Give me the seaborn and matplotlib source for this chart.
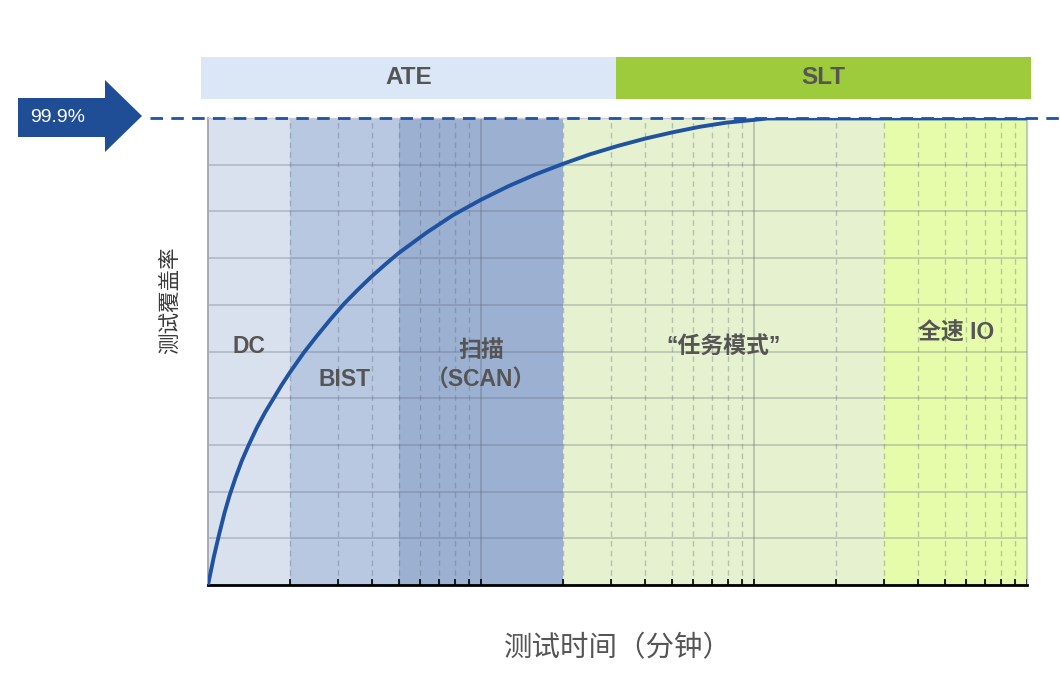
import matplotlib
matplotlib.use("Agg")
import matplotlib.pyplot as plt
from matplotlib.patches import Polygon
from matplotlib.ticker import LogLocator, NullFormatter
import seaborn as sns

# 数据：测试时间（分钟）与测试覆盖率（%）
time_min = [1.0, 1.05, 1.1, 1.15, 1.2, 1.26, 1.33, 1.41, 1.51, 1.62, 1.74,
            1.86, 2.0, 2.24, 2.51, 2.82, 3.16, 3.55, 3.98, 4.47, 5.0, 6.3,
            7.9, 10, 12.6, 15.8, 20, 25, 31.6, 40, 50, 63, 79, 100, 112, 1000]
coverage = [0, 6, 11, 15.5, 19.2, 22.9, 26.6, 30.0, 33.7, 37.0, 40.0,
            42.8, 45.6, 49.7, 53.4, 57, 60.3, 63.3, 66.1, 68.7, 71.1, 75.4,
            79.2, 82.5, 85.4, 87.9, 90.2, 92.2, 94, 95.6, 96.9, 98.1, 99.0,
            99.6, 99.9, 99.9]
target = 99.9

# 测试阶段及边界（分钟）
stage_names = ["DC", "BIST", "扫描\n（SCAN）", "“任务模式”", "全速 IO"]
stage_edges = [1, 2, 5, 20, 300, 1000]
stage_colors = ["#dae1ee", "#b9c8e1", "#9cb1d2", "#e6f1cf", "#e6fcab"]

band_names = ["ATE", "SLT"]
band_share = [0.5, 0.5]
band_colors = ["#dbe6f7", "#9dcb3b"]

sns.set_theme(style="white")
plt.rcParams['font.family'] = ['Noto Sans CJK SC', 'DejaVu Sans']
plt.rcParams['axes.unicode_minus'] = False
LATIN = ['Liberation Sans', 'Noto Sans CJK SC', 'DejaVu Sans']

W, H = 1060, 682
fig = plt.figure(figsize=(W / 100, H / 100), dpi=100)


def px(x0, y0, w, h):
    # 像素框 -> figure 坐标
    return [x0 / W, (H - y0 - h) / H, w / W, h / H]


ax = fig.add_axes(px(208, 118, 819, 467))
ax.set_xscale("log")
ax.set_xlim(stage_edges[0], stage_edges[-1])
ax.set_ylim(0, 100)

# 阶段背景
for lo, hi, c in zip(stage_edges[:-1], stage_edges[1:], stage_colors):
    ax.axvspan(lo, hi, color=c, zorder=0, lw=0)

# 网格
ax.set_axisbelow(True)
ax.set_yticks(range(0, 101, 10))
ax.xaxis.set_major_locator(LogLocator(base=10))
ax.xaxis.set_minor_locator(LogLocator(base=10, subs=range(2, 10)))
ax.xaxis.set_minor_formatter(NullFormatter())
ax.yaxis.grid(True, color="#5b6676", alpha=0.28, lw=1.4, ls="-")
ax.xaxis.grid(True, which="major", color="#5b6676", alpha=0.35, lw=1.3, ls="-")
ax.xaxis.grid(True, which="minor", color="#5b6676", alpha=0.35, lw=1.0, ls=(0, (4, 3)))
ax.set_xticklabels([])
ax.set_yticklabels([])
ax.tick_params(axis="x", which="both", direction="in", length=4, width=1.2,
               color="black", bottom=True)
ax.tick_params(axis="y", left=False)

for side in ["top", "right"]:
    ax.spines[side].set_color("#c8ccd2")
    ax.spines[side].set_linewidth(1.0)
ax.spines["left"].set_color("#a8acb2")
ax.spines["left"].set_linewidth(1.4)
ax.spines["bottom"].set_color("black")
ax.spines["bottom"].set_linewidth(2.0)

# 覆盖率曲线
sns.lineplot(x=time_min, y=coverage, ax=ax, color="#1f52a0", linewidth=2.8,
             zorder=5)

# 99.9% 虚线
ax.axhline(target, xmin=-0.071, xmax=1.04, color="#1f52a0", lw=2.0,
           ls=(0, (4.5, 3)), clip_on=False, zorder=6)

# 阶段标签（放在各阶段的几何中心）
label_y = [51, 44, 47, 51, 54]
for (lo, hi), name, yy in zip(zip(stage_edges[:-1], stage_edges[1:]), stage_names, label_y):
    xc = (lo * hi) ** 0.5
    ax.text(xc, yy, name, ha="center", va="center", fontsize=16.5,
            fontweight="bold", color="#555555", linespacing=1.35, zorder=7,
            family=LATIN)

ax.set_xlabel("测试时间（分钟）", fontsize=20.5, color="#555555", labelpad=31,
              fontweight="medium")
ax.set_ylabel("测试覆盖率", fontsize=15.5, color="#3a3a3a")
ax.yaxis.set_label_coords(-0.033, 0.61)

# 顶部 ATE / SLT 条
bax = fig.add_axes(px(201, 57, 830, 42))
left = 0
for name, share, c in zip(band_names, band_share, band_colors):
    bax.barh(0, share, left=left, color=c, height=1, edgecolor="none")
    bax.text(left + share / 2, 0, name, ha="center", va="center",
             fontsize=17.5, fontweight="bold", color="#555555", family=LATIN)
    left += share
bax.set_xlim(0, 1)
bax.set_ylim(-0.5, 0.5)
bax.axis("off")

# 左侧 99.9% 箭头
pts = [(18, 98), (105, 98), (105, 80), (142, 116), (105, 152), (105, 137), (18, 137)]
arrow = Polygon([(x / W, 1 - y / H) for x, y in pts], closed=True,
                transform=fig.transFigure, facecolor="#1f4e96", edgecolor="none")
fig.add_artist(arrow)
fig.text(30 / W, 1 - 117 / H, f"{target}%", color="white", fontsize=14,
         ha="left", va="center", family=LATIN)

plt.savefig("out.png", dpi=100)
